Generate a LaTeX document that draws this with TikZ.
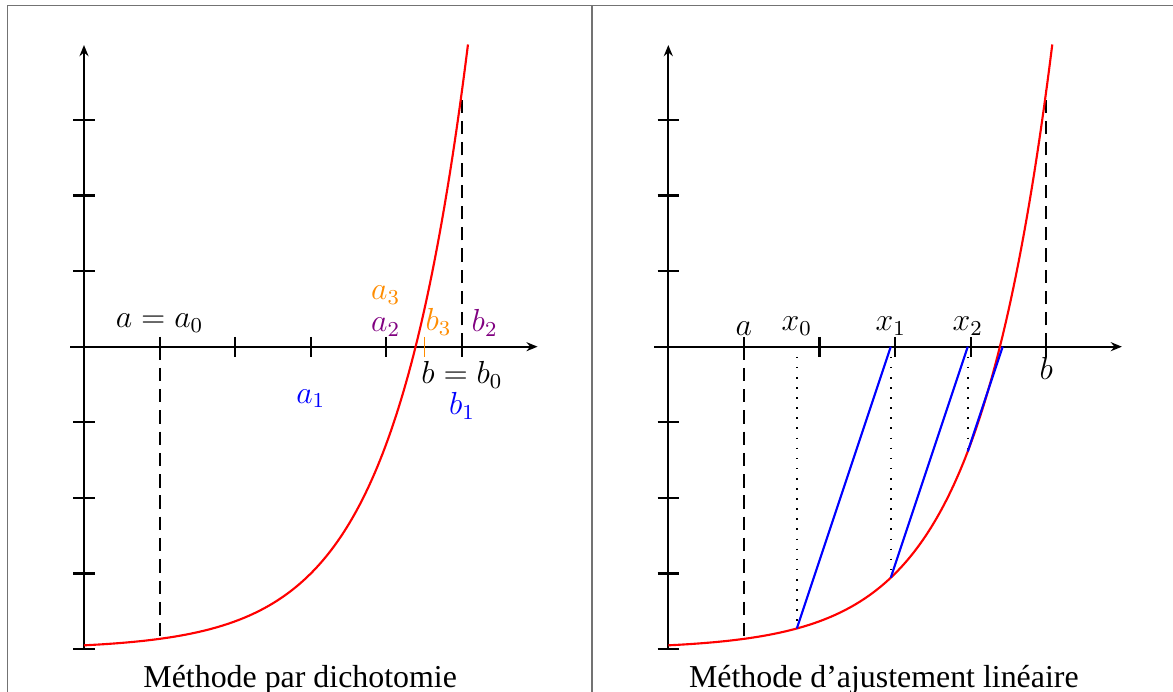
\documentclass[tikz,border=0pt,12pt]{standalone}
\usepackage{fontspec}
\newfontfamily\capfont{Liberation Serif}
\usetikzlibrary{arrows.meta}
\definecolor{myorange}{RGB}{255,140,0}
\definecolor{mypurple}{RGB}{128,0,128}
\begin{document}
\begin{tikzpicture}[
  axis/.style={thick,-{Stealth[length=4.2pt,width=3.4pt,inset=1.4pt]}},
  tickmark/.style={thick},
  curve/.style={red, thick},
  guide/.style={thick, dash pattern=on 5pt off 3pt},
  dots/.style={line width=0.6pt, dash pattern=on 0.6pt off 3.2pt},
  chord/.style={blue, thick},
  frame/.style={black!55, line width=0.6pt},
  lbl/.style={inner sep=0pt, anchor=base},
  caption/.style={font=\capfont, anchor=base, inner sep=0pt},
]
\useasboundingbox (-1.111,-4.567) rectangle (14.405,4.586);
% table frame
\draw[frame] (-1.012,-4.567) -- (-1.012,4.511) -- (14.405,4.511);
\draw[frame] (6.72,-4.567) -- (6.72,4.511);

% ---------- left panel ----------
\begin{scope}
  \coordinate (Lxs) at (-0.185,0); \coordinate (Lxe) at (6,0);
  \coordinate (Lys) at (0,-4); \coordinate (Lye) at (0,3.99);
  \coordinate (La) at (1,0); \coordinate (Lfa) at (1,{exp(-2)-4});
  \coordinate (Lb) at (5,0); \coordinate (Lfb) at (5,{exp(2)-4});
  \draw[guide] (La) -- (Lfa);
  \draw[guide] (Lb) -- (Lfb);
  \draw[axis] (Lxs) -- (Lxe);
  \draw[axis] (Lys) -- (Lye);
  \foreach \i in {1,...,5} \draw[tickmark] (\i,0.13) -- (\i,-0.13);
  \foreach \j in {-4,-3,-2,-1,1,2,3} \draw[tickmark] (-0.14,\j) -- (0.14,\j);
  \draw[curve] plot[domain=0:5.0794, samples=150] (\x,{exp(\x-3)-4});
  \draw[myorange, line width=0.5pt] (4.5,0.13) -- (4.5,-0.13);
  \node[lbl] (la0) at (1,0.25) {$a=a_0$};
  \node[lbl] (lb0) at (5,-0.49) {$b=b_0$};
  \node[lbl, blue] (la1) at (3,-0.745) {$a_1$};
  \node[lbl, blue] (lb1) at (5,-0.9) {$b_1$};
  \node[lbl, mypurple] (la2) at (3.99,0.2) {$a_2$};
  \node[lbl, myorange] (la3) at (3.99,0.62) {$a_3$};
  \node[lbl, myorange] (lb3) at (4.69,0.215) {$b_3$};
  \node[lbl, mypurple] (lb2) at (5.3,0.2) {$b_2$};
  \node[caption] (capL) at (2.86,-4.505) {Méthode par dichotomie};
\end{scope}

% ---------- right panel ----------
\begin{scope}[xshift=7.729cm]
  \coordinate (Rxs) at (-0.185,0); \coordinate (Rxe) at (6,0);
  \coordinate (Rys) at (0,-4); \coordinate (Rye) at (0,3.99);
  \coordinate (Ra) at (1,0); \coordinate (Rfa) at (1,{exp(-2)-4});
  \coordinate (Rb) at (5,0); \coordinate (Rfb) at (5,{exp(2)-4});
  \coordinate (x0) at (1.7,0);    \coordinate (f0) at (1.7,-3.7275);
  \coordinate (x1) at (2.9425,0); \coordinate (f1) at (2.9425,-3.0559);
  \coordinate (x2) at (3.9611,0); \coordinate (f2) at (3.9611,-1.3854);
  \coordinate (x3) at (4.4229,0);
  \draw[guide] (Ra) -- (Rfa);
  \draw[guide] (Rb) -- (Rfb);
  \draw[dots] (x0) -- (f0);
  \draw[dots] (x1) -- (f1);
  \draw[dots] (x2) -- (f2);
  \draw[axis] (Rxs) -- (Rxe);
  \draw[axis] (Rys) -- (Rye);
  \foreach \i in {1,...,5} \draw[tickmark] (\i,0.13) -- (\i,-0.13);
  \foreach \j in {-4,-3,-2,-1,1,2,3} \draw[tickmark] (-0.14,\j) -- (0.14,\j);
  \draw[curve] plot[domain=0:5.0794, samples=150] (\x,{exp(\x-3)-4});
  \draw[chord] (f0) -- (x1);
  \draw[chord] (f1) -- (x2);
  \draw[chord] (f2) -- (x3);
  \node[above] (ra) at (Ra) {$a$};
  \node[above] (rx0) at (x0) {$x_0$};
  \node[above] (rx1) at (x1) {$x_1$};
  \node[above] (rx2) at (x2) {$x_2$};
  \node[below] (rb) at (Rb) {$b$};
  \node[caption] (capR) at (2.851,-4.505) {Méthode d’ajustement linéaire};
\end{scope}
\end{tikzpicture}
\end{document}
